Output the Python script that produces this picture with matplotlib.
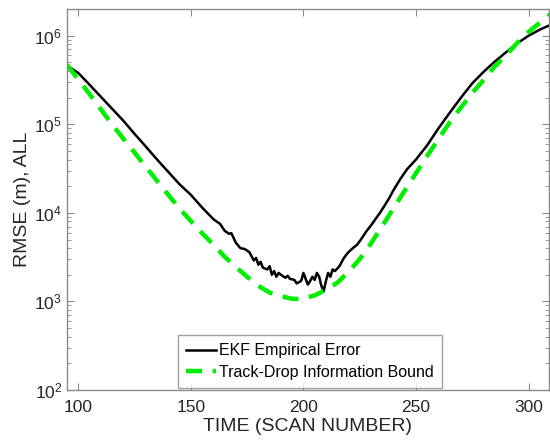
import matplotlib
matplotlib.use("Agg")
import matplotlib.pyplot as plt
from matplotlib.ticker import LogLocator, NullFormatter

plt.rcParams['font.family'] = ['Liberation Sans', 'DejaVu Sans']

# EKF empirical error (black)
ekf_scan = [95, 100, 105, 110, 115, 120, 125, 130, 135, 140, 145, 150, 155, 160, 163,
            165, 167, 168, 170, 172, 174, 176, 178, 179, 180, 181, 182, 184, 185, 186,
            187, 188, 189, 190, 192, 193, 194, 196, 197, 198, 199, 200, 201, 202, 203,
            204, 205, 206, 207, 208, 209, 210, 211, 212, 213, 214, 216, 218, 220, 222,
            224, 226, 228, 230, 232, 234, 236, 238, 240, 243, 246, 250, 255, 260, 265,
            270, 275, 280, 285, 290, 295, 300, 305, 309]
ekf_err = [4.6e5, 3.8e5, 2.8e5, 2.05e5, 1.5e5, 1.1e5, 7.8e4, 5.6e4, 4.0e4, 2.9e4, 2.1e4,
           1.6e4, 1.15e4, 8.5e3, 7.5e3, 6.3e3, 5.8e3, 5.9e3, 4.6e3, 4.0e3, 3.9e3, 3.6e3,
           2.9e3, 3.1e3, 2.6e3, 2.8e3, 2.4e3, 2.3e3, 2.5e3, 2.0e3, 2.2e3, 1.9e3, 2.1e3,
           2.0e3, 1.85e3, 1.95e3, 1.8e3, 1.75e3, 1.6e3, 1.65e3, 1.7e3, 2.1e3, 1.8e3,
           1.55e3, 1.7e3, 1.9e3, 1.75e3, 2.1e3, 1.9e3, 1.5e3, 1.3e3, 1.7e3, 2.1e3, 1.9e3,
           2.3e3, 2.2e3, 2.5e3, 3.1e3, 3.6e3, 4.0e3, 4.4e3, 5.2e3, 6.2e3, 7.2e3, 8.5e3,
           1.0e4, 1.2e4, 1.45e4, 1.8e4, 2.4e4, 3.1e4, 4.0e4, 5.8e4, 9.0e4, 1.35e5, 2.0e5,
           2.9e5, 3.9e5, 5.1e5, 6.5e5, 8.2e5, 1.0e6, 1.17e6, 1.3e6]

# Track-drop information bound (green dashed)
bound_scan = [95, 100, 105, 110, 115, 120, 125, 130, 135, 140, 145, 150, 155, 160, 165,
              170, 175, 180, 185, 190, 195, 198, 200, 205, 210, 215, 220, 225, 230, 235,
              240, 245, 250, 255, 260, 265, 270, 275, 280, 285, 290, 295, 300, 305, 310]
bound_val = [4.7e5, 3.2e5, 2.2e5, 1.48e5, 1.0e5, 6.9e4, 4.8e4, 3.3e4, 2.3e4, 1.6e4,
             1.12e4, 8.1e3, 5.9e3, 4.4e3, 3.2e3, 2.45e3, 1.9e3, 1.5e3, 1.26e3, 1.15e3,
             1.07e3, 1.07e3, 1.08e3, 1.17e3, 1.35e3, 1.62e3, 2.15e3, 3.0e3, 4.5e3, 7.1e3,
             1.12e4, 1.78e4, 2.8e4, 4.4e4, 6.8e4, 1.05e5, 1.55e5, 2.25e5, 3.15e5, 4.5e5,
             6.0e5, 8.3e5, 1.1e6, 1.4e6, 1.78e6]

x_ticks = [100, 150, 200, 250, 300]

fig = plt.figure(figsize=(5.5, 4.43), dpi=100)
ax = fig.add_axes([0.1218, 0.1196, 0.876, 0.860])

ax.plot(ekf_scan, ekf_err, color='black', lw=1.8, label='EKF Empirical Error')
ax.plot(bound_scan, bound_val, color='#00ee00', lw=3.2, dashes=(3.6, 2.4),
        label='Track-Drop Information Bound')

ax.set_yscale('log')
ax.set_xlim(95, 309)
ax.set_ylim(1e2, 2e6)
ax.set_xticks(x_ticks)
ax.yaxis.set_major_locator(LogLocator(base=10, numticks=10))
ax.yaxis.set_minor_locator(LogLocator(base=10, subs=range(2, 10), numticks=20))
ax.yaxis.set_minor_formatter(NullFormatter())

for s in ax.spines.values():
    s.set_color('#8a8a8a')
    s.set_linewidth(1.0)
ax.tick_params(which='both', direction='in', top=True, right=True, color='#8a8a8a',
               labelcolor='#262626', labelsize=12.5)
ax.tick_params(which='major', length=5)
ax.tick_params(which='minor', length=3)
ax.tick_params(axis='x', pad=7)

ax.set_xlabel('TIME (SCAN NUMBER)', fontsize=14, color='#262626', labelpad=2)
ax.set_ylabel('RMSE (m), ALL', fontsize=14, color='#262626', labelpad=2)

leg = ax.legend(loc='lower center', bbox_to_anchor=(0.504, 0.0), fontsize=11.5,
                frameon=True, fancybox=False, handlelength=1.9, handletextpad=0.15,
                borderpad=0.5, labelspacing=0.4, borderaxespad=0.15)
leg.get_frame().set_edgecolor('#8a8a8a')
leg.get_frame().set_linewidth(1.0)

fig.savefig('out.png', dpi=100)
